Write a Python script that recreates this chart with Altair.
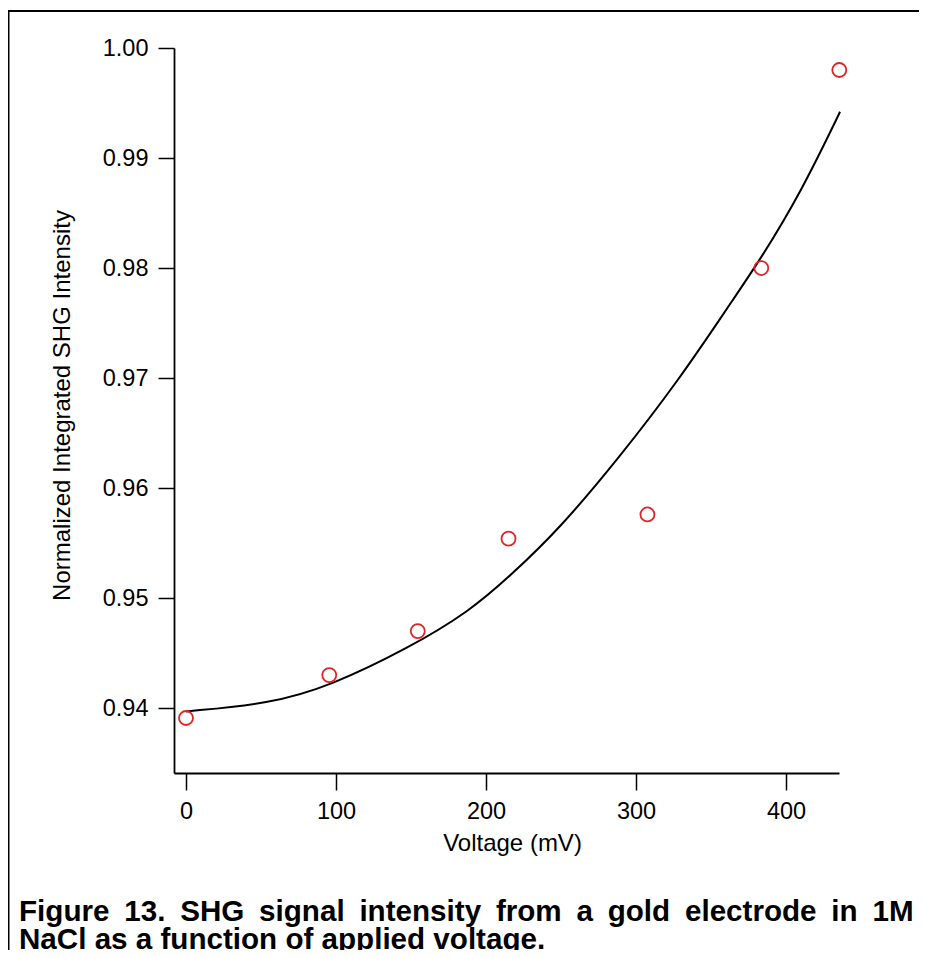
import altair as alt
import pandas as pd

# measured data (red circles)
volt = [0, 95.5, 154.5, 215, 307.6, 383.5, 435.5]
inten = [0.9391, 0.9430, 0.9470, 0.9554, 0.9576, 0.9800, 0.9980]

# fitted curve
fit_v = [0, 56, 96, 149, 189, 216, 249, 289, 329, 363, 383, 410, 436]
fit_y = [0.9397, 0.9404, 0.9420, 0.9455, 0.9488, 0.9520, 0.9563, 0.9628, 0.9699, 0.9768, 0.9808, 0.9869, 0.9942]

x_ticks = [0, 100, 200, 300, 400]
y_ticks = [0.94, 0.95, 0.96, 0.97, 0.98, 0.99, 1.00]

SP = "\u2002"
caption_line1 = SP.join("Figure 13. SHG signal intensity from a gold electrode in 1M".split(" "))
caption_line2 = "NaCl as a function of applied voltage."

FONT = "Liberation Sans"

pts = pd.DataFrame({"v": volt, "i": inten})
fit = pd.DataFrame({"v": fit_v, "i": fit_y})

xs = alt.Scale(domain=[-8, 435.3], nice=False, zero=False)
ys = alt.Scale(domain=[0.9341, 1.0], nice=False, zero=False)

xaxis = alt.Axis(values=x_ticks, format="d", title="Voltage (mV)", grid=False,
                 tickSize=17, tickWidth=1.5, domainWidth=1.8, domainColor="black",
                 tickColor="black", labelColor="black", labelFont=FONT, labelFontSize=23.5,
                 labelPadding=9, titleFont=FONT, titleFontSize=24, titleFontWeight="normal",
                 titleColor="black", titlePadding=9, titleX=338)
yaxis = alt.Axis(values=y_ticks, format=".2f", title="Normalized Integrated SHG Intensity",
                 grid=False, tickSize=16, tickWidth=1.5, domainWidth=1.8, domainColor="black",
                 tickColor="black", labelColor="black", labelFont=FONT, labelFontSize=23.5,
                 labelPadding=10, titleFont=FONT, titleFontSize=24, titleFontWeight="normal",
                 titleColor="black", titleX=-112, titleY=357, titleBaseline="middle")

line = alt.Chart(fit).mark_line(color="black", strokeWidth=2, interpolate="basis").encode(
    x=alt.X("v:Q", scale=xs, axis=xaxis),
    y=alt.Y("i:Q", scale=ys, axis=yaxis),
)
points = alt.Chart(pts).mark_point(shape="circle", filled=False, color="#e22426",
                                   size=196, strokeWidth=1.8, opacity=1).encode(
    x=alt.X("v:Q", scale=xs),
    y=alt.Y("i:Q", scale=ys),
)

one = alt.Data(values=[{"a": 1}])
left_border = alt.Chart(one).mark_rule(color="black", strokeWidth=2).encode(
    x=alt.value(-165.5), y=alt.value(-37), y2=alt.value(1000))
top_border = alt.Chart(one).mark_rule(color="black", strokeWidth=2).encode(
    y=alt.value(-37), x=alt.value(-166.5), x2=alt.value(1000))

cap1 = alt.Chart(one).mark_text(text=caption_line1, font=FONT, fontSize=29.6, fontWeight="bold",
                                color="black", align="left", baseline="alphabetic").encode(
    x=alt.value(-155), y=alt.value(873))
cap2 = alt.Chart(one).mark_text(text=caption_line2, font=FONT, fontSize=29.6, fontWeight="bold",
                                color="black", align="left", baseline="alphabetic").encode(
    x=alt.value(-155), y=alt.value(901))

chart = alt.layer(left_border, top_border, line, points, cap1, cap2).properties(
    width=665, height=725,
    autosize=alt.AutoSizeParams(type="none"),
    padding={"left": 166, "top": 40, "right": 80, "bottom": 177},
    background="white",
).configure_view(strokeWidth=0, stroke="transparent")

chart.save("out.html", embed_options={"renderer": "svg", "actions": False})
